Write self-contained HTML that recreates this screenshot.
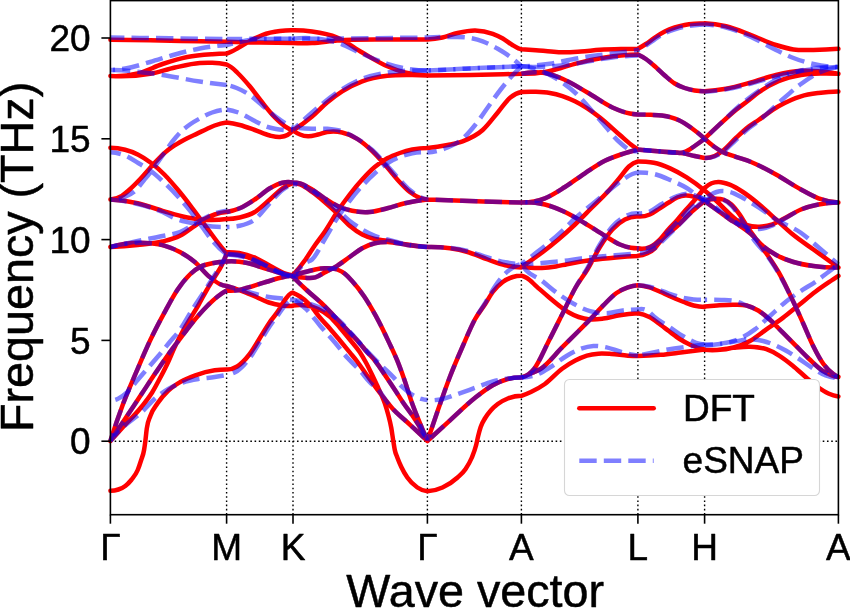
<!DOCTYPE html>
<html><head><meta charset="utf-8"><title>Phonon dispersion</title>
<style>html,body{margin:0;padding:0;background:#fff;overflow:hidden}body{width:850px;height:608px;position:relative}</style></head>
<body>
<svg width="850" height="608" viewBox="0 0 850 608" style="display:block;position:absolute;left:0;top:0">
<rect width="850" height="608" fill="#fff"/>
<g stroke="#000" stroke-width="1.4" stroke-dasharray="1.6 2.64" fill="none">
<line x1="226.6" y1="514.7" x2="226.6" y2="0.6"/>
<line x1="293.0" y1="514.7" x2="293.0" y2="0.6"/>
<line x1="427.4" y1="514.7" x2="427.4" y2="0.6"/>
<line x1="521.4" y1="514.7" x2="521.4" y2="0.6"/>
<line x1="637.9" y1="514.7" x2="637.9" y2="0.6"/>
<line x1="704.6" y1="514.7" x2="704.6" y2="0.6"/>
<line x1="110.4" y1="441.2" x2="838.4" y2="441.2"/>
</g>
<g fill="none" stroke-linecap="butt" stroke-linejoin="round">
<path d="M110.40,39.80 C123.64,39.92 136.88,40.09 150.13,40.30 C166.68,40.56 183.23,40.98 199.78,41.30 C208.72,41.47 217.66,41.64 226.60,41.80 M110.40,76.00 C119.50,76.55 128.61,75.72 137.71,73.50 C145.99,71.48 154.26,66.75 162.54,64.00 C170.82,61.25 179.09,58.63 187.37,57.00 C195.65,55.37 203.92,54.80 212.20,54.20 C217.00,53.85 221.80,53.62 226.60,53.50 M110.40,76.00 C123.64,76.88 136.88,76.15 150.13,73.80 C158.40,72.33 166.68,69.30 174.96,67.50 C183.23,65.70 191.51,63.59 199.78,63.00 C203.92,62.71 208.06,62.61 212.20,62.80 C217.00,63.02 221.80,63.59 226.60,64.50 M110.40,147.80 C115.30,147.85 120.20,148.52 125.10,149.80 C129.47,150.94 133.84,152.49 138.21,154.70 C142.55,156.90 146.88,159.72 151.22,163.00 C155.59,166.31 159.96,170.12 164.33,174.50 C168.70,178.88 173.07,184.08 177.44,189.30 C181.81,194.52 186.18,200.09 190.55,205.80 C193.83,210.08 197.10,214.59 200.38,219.00 C203.10,222.66 205.81,226.33 208.52,230.00 C211.24,233.67 213.95,237.47 216.67,241.00 C219.98,245.30 223.29,249.40 226.60,253.30 M110.40,199.50 C114.21,199.36 118.01,198.16 121.82,195.90 C125.10,193.95 128.38,190.74 131.65,187.70 C134.90,184.70 138.14,181.25 141.39,177.80 C145.76,173.15 150.13,167.63 154.50,163.00 C157.77,159.53 161.05,155.98 164.33,153.10 C167.61,150.22 170.88,147.91 174.16,145.70 C178.53,142.75 182.90,140.44 187.27,138.20 C190.55,136.52 193.83,135.14 197.10,133.60 C200.35,132.07 203.59,130.49 206.84,129.00 C209.45,127.80 212.07,126.46 214.68,125.50 C218.65,124.03 222.63,123.03 226.60,122.50 M110.40,199.50 C119.50,199.99 128.61,201.26 137.71,203.30 C145.99,205.16 154.26,208.43 162.54,210.80 C170.82,213.17 179.09,215.96 187.37,217.50 C193.16,218.58 198.96,219.37 204.75,219.70 C212.03,220.11 219.32,219.88 226.60,219.00 M110.40,247.00 C119.50,246.66 128.61,245.99 137.71,245.00 C145.99,244.10 154.26,243.58 162.54,241.50 C168.33,240.05 174.13,238.77 179.92,235.80 C184.89,233.25 189.85,229.17 194.82,225.80 C198.13,223.55 201.44,220.88 204.75,219.00 C208.06,217.12 211.37,215.63 214.68,214.50 C218.65,213.14 222.63,212.31 226.60,212.00 M110.40,247.00 C123.64,243.25 136.88,242.02 150.13,243.30 C155.09,243.78 160.06,244.35 165.02,245.80 C169.99,247.25 174.96,249.30 179.92,252.00 C184.89,254.70 189.85,257.83 194.82,262.00 C199.78,266.17 204.75,272.90 209.72,277.00 C213.03,279.73 216.34,282.48 219.65,284.00 C221.97,285.06 224.28,285.73 226.60,286.00 M110.40,441.00 C114.70,427.34 119.01,414.77 123.31,403.30 C127.55,392.00 131.79,382.56 136.02,372.60 C140.79,361.39 145.56,350.09 150.33,340.00 C155.52,329.00 160.72,319.26 165.92,309.80 C169.72,302.87 173.53,295.70 177.34,290.00 C181.51,283.75 185.68,278.54 189.85,274.50 C193.16,271.29 196.47,268.83 199.78,267.00 C203.92,264.72 208.06,264.20 212.20,263.30 C217.00,262.25 221.80,261.65 226.60,261.50 M110.40,441.00 C114.70,436.26 119.01,431.53 123.31,426.80 C129.34,420.18 135.36,414.57 141.39,407.00 C144.96,402.51 148.54,398.25 152.11,392.50 C155.09,387.71 158.07,381.92 161.05,376.20 C163.47,371.56 165.88,366.93 168.30,361.70 C170.22,357.55 172.14,352.67 174.06,348.50 C177.90,340.16 181.74,333.11 185.58,326.20 C189.92,318.40 194.26,312.39 198.59,304.80 C201.31,300.05 204.02,294.68 206.74,290.00 C209.39,285.43 212.03,281.39 214.68,277.00 C217.16,272.88 219.65,269.71 222.13,264.50 C223.62,261.38 225.11,257.88 226.60,254.00 M110.40,441.00 C115.93,432.67 121.46,424.33 126.99,416.00 C131.79,408.77 136.59,401.53 141.39,394.30 C146.19,387.07 150.99,379.68 155.79,372.60 C159.96,366.45 164.13,360.29 168.30,354.50 C171.91,349.49 175.52,344.78 179.13,340.00 C183.46,334.26 187.80,328.31 192.14,323.00 C197.00,317.05 201.87,311.40 206.74,306.50 C210.38,302.83 214.02,299.32 217.66,296.50 C220.64,294.19 223.62,292.22 226.60,290.60 M110.40,490.80 C113.05,490.85 115.70,490.41 118.35,489.50 C120.66,488.70 122.98,487.79 125.30,486.00 C127.28,484.46 129.27,482.52 131.26,480.00 C133.41,477.27 135.56,475.19 137.71,470.00 C138.87,467.21 140.03,463.71 141.19,460.00 C142.15,456.93 143.11,455.65 144.07,450.00 C144.50,447.47 144.93,444.39 145.36,441.00 C145.82,437.35 146.29,432.11 146.75,428.70 C147.94,419.92 149.13,419.52 150.33,416.00 C152.74,408.85 155.16,406.97 157.58,403.30 C161.15,397.87 164.73,394.16 168.30,390.70 C172.51,386.64 176.71,384.08 180.91,381.60 C185.71,378.77 190.52,377.03 195.32,375.30 C201.77,372.97 208.23,371.20 214.68,370.30 C218.65,369.74 222.63,369.48 226.60,369.50 M226.60,41.80 C237.67,42.07 248.73,42.30 259.80,42.50 C270.87,42.70 281.93,42.87 293.00,43.00 M226.60,53.50 C228.28,52.95 229.95,52.28 231.63,51.50 C233.47,50.64 235.32,49.54 237.16,48.50 C240.52,46.62 243.87,44.37 247.22,42.50 C252.25,39.70 257.28,36.87 262.32,35.00 C268.18,32.81 274.05,31.75 279.92,31.00 C284.28,30.44 288.64,30.21 293.00,30.30 M226.60,64.50 C228.28,65.25 229.95,66.25 231.63,67.50 C233.47,68.87 235.32,70.72 237.16,72.50 C241.36,76.54 245.55,81.30 249.74,86.30 C253.93,91.30 258.12,97.30 262.32,102.50 C266.51,107.70 270.70,113.24 274.89,117.50 C278.24,120.91 281.60,124.02 284.95,126.30 C287.63,128.12 290.32,129.52 293.00,130.50 M226.60,122.50 C230.96,123.05 235.32,123.88 239.68,125.00 C244.71,126.29 249.74,128.25 254.77,130.00 C259.80,131.75 264.83,134.32 269.86,135.50 C273.21,136.29 276.57,137.29 279.92,137.00 C282.44,136.78 284.95,136.46 287.47,135.00 C289.31,133.93 291.16,132.43 293.00,130.50 M226.60,212.00 C230.96,211.37 235.32,210.14 239.68,208.30 C244.71,206.18 249.74,202.83 254.77,199.50 C259.80,196.17 264.83,191.22 269.86,188.30 C274.05,185.87 278.24,183.60 282.44,182.70 C285.96,181.95 289.48,181.88 293.00,182.50 M226.60,219.00 C230.96,219.01 235.32,218.51 239.68,217.50 C244.71,216.34 249.74,215.00 254.77,212.00 C259.80,209.00 264.83,203.84 269.86,199.50 C274.05,195.89 278.24,191.15 282.44,188.30 C285.96,185.91 289.48,184.14 293.00,183.00 M226.60,252.20 C230.76,252.05 234.92,252.32 239.08,253.00 C244.64,253.92 250.21,255.64 255.78,258.00 C261.28,260.33 266.78,264.12 272.28,267.00 C276.70,269.31 281.13,272.29 285.56,273.70 C288.04,274.49 290.52,275.02 293.00,275.30 M226.60,254.00 C233.54,253.78 240.48,254.78 247.43,257.00 C252.89,258.75 258.36,261.94 263.82,264.50 C269.39,267.11 274.96,270.47 280.52,272.50 C284.68,274.02 288.84,275.19 293.00,276.00 M226.60,261.50 C233.54,261.10 240.48,261.60 247.43,263.00 C252.89,264.11 258.36,266.32 263.82,268.00 C269.39,269.72 274.96,271.62 280.52,273.20 C284.68,274.38 288.84,275.48 293.00,276.50 M226.60,286.00 C232.44,287.62 238.27,289.56 244.11,291.80 C248.00,293.30 251.89,295.02 255.78,296.70 C260.14,298.58 264.49,301.04 268.85,302.50 C273.31,303.99 277.77,304.94 282.24,305.50 C285.82,305.95 289.41,306.12 293.00,306.00 M226.60,290.60 C230.76,290.97 234.92,290.77 239.08,290.00 C241.86,289.49 244.64,288.49 247.43,287.70 C252.89,286.14 258.36,284.34 263.82,282.70 C269.39,281.03 274.96,279.14 280.52,277.80 C284.68,276.80 288.84,275.97 293.00,275.30 M226.60,369.50 C230.12,369.64 233.64,368.64 237.16,366.50 C241.36,363.95 245.55,359.42 249.74,354.00 C253.93,348.58 258.12,340.67 262.32,334.00 C264.83,330.00 267.35,325.64 269.86,322.00 C272.31,318.46 274.76,315.94 277.20,312.40 C279.99,308.37 282.77,302.58 285.56,299.00 C287.20,296.89 288.84,294.55 290.48,293.60 C291.32,293.11 292.16,292.85 293.00,292.80 M293.00,43.00 C299.35,43.27 305.70,43.27 312.06,43.00 C320.41,42.64 328.77,41.11 337.13,40.50 C353.85,39.28 370.56,39.65 387.28,39.50 C400.65,39.38 414.03,39.38 427.40,39.50 M293.00,30.30 C299.35,30.22 305.70,30.62 312.06,31.50 C320.41,32.66 328.77,34.00 337.13,37.50 C345.49,41.00 353.85,47.70 362.21,52.50 C370.56,57.30 378.92,62.67 387.28,66.30 C393.13,68.84 398.98,71.00 404.83,72.50 C412.36,74.43 419.88,75.43 427.40,75.50 M293.00,130.50 C299.35,126.53 305.70,121.86 312.06,116.50 C317.07,112.27 322.09,106.70 327.10,102.50 C332.12,98.30 337.13,94.50 342.15,91.30 C348.83,87.03 355.52,83.80 362.21,81.30 C370.56,78.17 378.92,76.85 387.28,75.80 C395.64,74.75 404.00,74.93 412.36,75.00 C417.37,75.04 422.39,75.21 427.40,75.50 M293.00,130.50 C295.34,132.21 297.68,133.54 300.02,134.50 C302.70,135.59 305.37,136.18 308.04,136.30 C311.39,136.45 314.73,135.27 318.07,134.50 C321.08,133.81 324.09,132.48 327.10,132.00 C332.12,131.19 337.13,131.37 342.15,132.50 C347.16,133.63 352.18,135.72 357.19,138.80 C362.21,141.88 367.22,146.21 372.24,151.00 C376.41,154.99 380.59,159.75 384.77,164.50 C388.95,169.25 393.13,174.92 397.31,179.50 C401.49,184.08 405.67,188.81 409.85,192.00 C413.19,194.56 416.53,196.54 419.88,197.80 C422.39,198.75 424.89,199.31 427.40,199.50 M293.00,275.00 C297.11,270.49 301.22,265.39 305.34,259.70 C308.65,255.12 311.96,249.55 315.27,244.80 C318.38,240.34 321.48,236.56 324.59,232.00 C328.77,225.87 332.95,218.25 337.13,212.00 C341.31,205.75 345.49,199.92 349.67,194.50 C353.85,189.08 358.03,184.08 362.21,179.50 C366.39,174.92 370.56,170.53 374.74,167.00 C378.92,163.47 383.10,160.63 387.28,158.30 C391.46,155.97 395.64,154.47 399.82,153.00 C404.00,151.53 408.18,150.33 412.36,149.50 C417.37,148.51 422.39,148.01 427.40,148.00 M293.00,182.50 C295.34,182.53 297.68,182.86 300.02,183.50 C304.03,184.60 308.04,187.10 312.06,189.50 C316.24,192.00 320.41,195.58 324.59,198.30 C328.77,201.02 332.95,203.81 337.13,205.80 C342.15,208.19 347.16,209.74 352.18,210.80 C358.03,212.03 363.88,212.42 369.73,212.00 C375.58,211.58 381.43,209.75 387.28,208.30 C393.13,206.85 398.98,204.67 404.83,203.30 C412.36,201.54 419.88,200.27 427.40,199.50 M293.00,183.00 C295.34,183.15 297.68,183.65 300.02,184.50 C304.03,185.96 308.04,189.16 312.06,192.00 C316.24,194.96 320.41,198.45 324.59,202.00 C328.77,205.55 332.95,209.33 337.13,213.30 C341.31,217.27 345.49,222.27 349.67,225.80 C353.85,229.33 358.03,232.30 362.21,234.50 C366.39,236.70 370.56,237.95 374.74,239.00 C378.92,240.05 383.10,240.13 387.28,240.80 C393.97,241.87 400.65,243.47 407.34,244.50 C414.03,245.53 420.71,246.37 427.40,247.00 M293.00,276.00 C297.11,277.02 301.22,277.62 305.34,277.80 C308.65,277.94 311.96,278.36 315.27,277.40 C318.38,276.50 321.48,274.15 324.59,272.50 C328.77,270.29 332.95,268.38 337.13,265.80 C341.31,263.22 345.49,259.92 349.67,257.00 C353.85,254.08 358.03,250.58 362.21,248.30 C366.39,246.02 370.56,244.35 374.74,243.30 C378.92,242.25 383.10,242.03 387.28,242.00 C393.97,241.96 400.65,244.17 407.34,245.00 C414.03,245.83 420.71,246.50 427.40,247.00 M293.00,275.30 C297.11,274.16 301.22,273.06 305.34,272.00 C308.65,271.14 311.96,270.12 315.27,269.50 C318.38,268.91 321.48,268.40 324.59,268.30 C328.77,268.16 332.95,267.91 337.13,269.50 C339.81,270.51 342.48,271.83 345.16,274.00 C347.16,275.62 349.17,277.83 351.17,280.00 C355.52,284.70 359.87,290.05 364.21,296.50 C368.12,302.30 372.04,309.02 375.95,316.20 C380.33,324.24 384.71,333.28 389.09,342.60 C391.83,348.43 394.57,353.92 397.31,360.70 C399.55,366.24 401.79,372.43 404.03,378.80 C406.81,386.69 409.58,396.27 412.36,404.00 C415.70,413.31 419.04,420.89 422.39,429.00 C424.06,433.06 425.73,437.06 427.40,441.00 M293.00,277.00 C297.51,281.48 302.03,285.81 306.54,290.00 C312.06,295.12 317.57,299.39 323.09,304.70 C328.71,310.11 334.32,316.28 339.94,322.20 C343.02,325.44 346.09,328.72 349.17,332.00 C352.74,335.82 356.32,339.36 359.90,343.50 C362.11,346.05 364.31,348.95 366.52,351.50 C369.43,354.86 372.34,357.37 375.24,361.00 C378.92,365.59 382.60,371.58 386.28,377.00 C389.29,381.44 392.30,385.93 395.30,390.50 C398.11,394.77 400.92,399.38 403.73,403.50 C406.60,407.72 409.48,411.25 412.36,415.50 C415.03,419.45 417.70,423.41 420.38,428.00 C422.72,432.01 425.06,436.35 427.40,441.00 M293.00,305.50 C297.51,304.76 302.03,304.76 306.54,305.50 C310.39,306.13 314.23,307.17 318.07,309.00 C322.05,310.89 326.03,313.24 330.01,316.80 C333.32,319.77 336.63,323.90 339.94,327.70 C343.22,331.47 346.49,335.47 349.77,339.50 C353.08,343.57 356.39,346.98 359.70,352.00 C361.87,355.30 364.04,358.97 366.22,363.00 C368.06,366.41 369.90,370.21 371.73,374.00 C373.51,377.65 375.28,381.48 377.05,385.30 C378.45,388.33 379.86,391.21 381.26,394.50 C382.50,397.40 383.74,400.02 384.97,403.70 C386.08,406.98 387.18,410.71 388.28,415.00 C389.29,418.90 390.29,422.37 391.29,428.00 C391.96,431.76 392.63,436.86 393.30,441.00 C393.80,444.11 394.30,447.56 394.80,450.00 C395.64,454.06 396.47,455.20 397.31,457.50 C398.65,461.18 399.99,464.17 401.32,467.00 C403.33,471.25 405.33,474.56 407.34,477.50 C410.68,482.40 414.03,485.20 417.37,487.50 C420.71,489.80 424.06,491.07 427.40,491.30 M293.00,292.80 C295.34,293.73 297.68,294.97 300.02,296.50 C303.30,298.65 306.57,301.25 309.85,304.70 C313.26,308.29 316.67,313.75 320.08,317.80 C323.39,321.73 326.70,324.92 330.01,328.70 C333.32,332.48 336.63,336.53 339.94,340.50 C343.22,344.43 346.49,348.40 349.77,352.40 C352.24,355.42 354.72,358.26 357.19,361.50 C360.30,365.57 363.41,370.36 366.52,374.70 C370.03,379.60 373.54,384.55 377.05,389.20 C380.13,393.27 383.20,397.19 386.28,401.00 C388.48,403.73 390.69,406.55 392.90,409.00 C397.04,413.60 401.19,416.69 405.33,420.50 C409.35,424.19 413.36,427.76 417.37,431.50 C420.71,434.62 424.06,437.78 427.40,441.00 M427.40,39.50 C432.43,39.25 437.45,38.58 442.48,37.50 C447.51,36.42 452.53,34.14 457.56,33.00 C463.42,31.67 469.29,30.37 475.15,30.50 C481.02,30.63 486.88,31.66 492.75,33.80 C496.10,35.03 499.45,36.57 502.80,38.50 C505.98,40.34 509.17,43.09 512.35,45.00 C514.36,46.20 516.37,47.53 518.38,48.30 C519.39,48.68 520.39,48.98 521.40,49.20 M427.40,75.50 C441.81,75.41 456.22,75.25 470.63,75.00 C487.55,74.71 504.48,74.31 521.40,73.80 M427.40,148.00 C434.10,147.37 440.80,146.37 447.51,145.00 C452.53,143.97 457.56,143.22 462.59,141.30 C469.29,138.75 475.99,136.06 482.69,130.00 C487.72,125.46 492.75,118.42 497.77,112.50 C501.96,107.56 506.15,100.95 510.34,97.50 C514.03,94.47 517.71,92.63 521.40,92.00 M427.40,199.50 C439.13,199.97 450.86,200.40 462.59,200.80 C482.19,201.47 501.80,202.03 521.40,202.50 M427.40,247.00 C434.94,246.79 442.48,247.22 450.02,248.30 C455.88,249.14 461.75,250.32 467.61,252.00 C474.32,253.92 481.02,257.15 487.72,259.50 C493.59,261.55 499.45,263.96 505.31,265.30 C510.68,266.53 516.04,267.26 521.40,267.50 M427.40,441.00 C430.75,430.94 434.10,421.11 437.45,411.50 C441.64,399.49 445.83,387.33 450.02,376.50 C454.21,365.67 458.40,356.08 462.59,346.50 C466.78,336.92 470.97,326.55 475.15,319.00 C478.51,312.96 481.86,309.19 485.21,304.00 C487.72,300.11 490.23,295.36 492.75,292.00 C496.10,287.52 499.45,284.50 502.80,282.00 C506.15,279.50 509.50,278.02 512.85,277.00 C515.70,276.13 518.55,275.73 521.40,275.80 M427.40,441.00 C434.94,434.03 442.48,427.13 450.02,420.30 C458.40,412.71 466.78,404.39 475.15,397.80 C481.02,393.19 486.88,388.54 492.75,385.30 C497.77,382.52 502.80,380.29 507.83,379.00 C512.35,377.84 516.88,377.34 521.40,377.50 M427.40,491.30 C432.43,491.07 437.45,489.80 442.48,487.50 C447.51,485.20 452.53,482.12 457.56,477.50 C460.24,475.03 462.92,473.01 465.60,469.00 C467.61,465.99 469.62,462.87 471.64,458.00 C473.14,454.35 474.65,451.01 476.16,445.00 C476.83,442.33 477.50,438.73 478.17,436.00 C479.01,432.58 479.85,429.52 480.68,427.00 C482.19,422.46 483.70,420.57 485.21,418.00 C487.05,414.86 488.89,412.65 490.74,410.50 C493.08,407.76 495.43,405.80 497.77,404.00 C501.13,401.42 504.48,399.84 507.83,398.50 C512.35,396.70 516.88,395.80 521.40,395.80 M521.40,49.20 C526.23,49.49 531.07,49.82 535.90,50.20 C540.90,50.59 545.90,51.12 550.90,51.50 C554.73,51.80 558.57,52.20 562.40,52.30 C568.57,52.46 574.73,51.91 580.90,51.50 C587.23,51.08 593.57,50.21 599.90,49.80 C606.90,49.34 613.90,49.16 620.90,49.00 C626.57,48.87 632.23,48.80 637.90,48.80 M521.40,73.80 C529.23,74.01 537.07,73.41 544.90,72.00 C550.23,71.04 555.57,69.48 560.90,68.00 C565.57,66.71 570.23,65.07 574.90,63.80 C584.90,61.09 594.90,59.05 604.90,57.50 C610.23,56.68 615.57,56.00 620.90,55.50 C626.57,54.97 632.23,54.64 637.90,54.50 M521.40,73.80 C529.23,71.89 537.07,71.63 544.90,73.00 C550.73,74.02 556.57,76.35 562.40,78.80 C570.73,82.31 579.07,87.72 587.40,92.50 C595.73,97.28 604.07,103.76 612.40,107.50 C618.23,110.12 624.07,112.37 629.90,113.50 C632.57,114.02 635.23,114.35 637.90,114.50 M521.40,92.00 C526.23,91.69 531.07,91.62 535.90,91.80 C540.57,91.97 545.23,92.19 549.90,93.00 C558.23,94.45 566.57,97.22 574.90,101.30 C583.23,105.38 591.57,111.05 599.90,117.50 C606.57,122.66 613.23,129.22 619.90,135.00 C623.57,138.18 627.23,141.67 630.90,144.50 C633.23,146.30 635.57,147.97 637.90,149.50 M521.40,202.50 C529.23,202.73 537.07,201.33 544.90,198.30 C551.57,195.72 558.23,191.17 564.90,187.00 C571.57,182.83 578.23,177.67 584.90,173.30 C591.57,168.93 598.23,164.11 604.90,160.80 C610.23,158.15 615.57,156.31 620.90,154.50 C623.57,153.59 626.23,152.79 628.90,152.00 C631.90,151.11 634.90,150.28 637.90,149.50 M521.40,202.50 C529.23,201.94 537.07,202.61 544.90,204.50 C551.57,206.11 558.23,208.87 564.90,212.00 C571.57,215.13 578.23,219.33 584.90,223.30 C591.57,227.27 598.23,231.80 604.90,235.80 C609.90,238.80 614.90,242.41 619.90,244.50 C623.57,246.03 627.23,247.21 630.90,247.80 C633.23,248.17 635.57,248.34 637.90,248.30 M521.40,266.80 C524.57,267.26 527.73,267.59 530.90,267.80 C534.57,268.04 538.23,268.14 541.90,268.00 C546.57,267.83 551.23,267.27 555.90,266.50 C559.57,265.90 563.23,264.92 566.90,264.20 C575.10,262.58 583.30,261.13 591.50,260.00 C599.73,258.86 607.97,258.09 616.20,257.40 C623.43,256.80 630.67,256.33 637.90,256.00 M521.40,266.80 C528.30,262.45 535.20,257.69 542.10,252.50 C547.60,248.37 553.10,243.98 558.60,239.30 C564.07,234.65 569.53,229.70 575.00,224.50 C580.50,219.27 586.00,213.52 591.50,208.00 C596.97,202.52 602.43,197.51 607.90,191.50 C611.90,187.10 615.90,182.29 619.90,177.50 C622.90,173.90 625.90,169.17 628.90,166.50 C631.90,163.83 634.90,162.17 637.90,161.50 M521.40,275.60 C523.23,276.11 525.07,276.91 526.90,278.00 C530.17,279.94 533.43,283.74 536.70,286.60 C541.07,290.42 545.43,294.34 549.80,298.00 C553.50,301.10 557.20,304.27 560.90,307.00 C563.57,308.97 566.23,310.94 568.90,312.50 C572.13,314.40 575.37,315.88 578.60,317.00 C582.43,318.33 586.27,319.08 590.10,319.40 C594.50,319.77 598.90,319.14 603.30,318.60 C608.77,317.93 614.23,316.18 619.70,315.30 C625.77,314.33 631.83,313.63 637.90,313.20 M521.40,377.50 C524.57,376.26 527.73,374.92 530.90,373.50 C534.17,372.03 537.43,370.90 540.70,368.80 C547.83,364.21 554.97,354.51 562.10,347.40 C567.60,341.92 573.10,336.51 578.60,331.00 C582.43,327.16 586.27,323.36 590.10,319.40 C594.50,314.86 598.90,309.80 603.30,305.40 C607.70,301.00 612.10,296.10 616.50,293.00 C620.30,290.33 624.10,288.61 627.90,287.30 C631.23,286.15 634.57,285.45 637.90,285.20 M521.40,377.50 C523.90,377.12 526.40,375.95 528.90,374.00 C530.63,372.65 532.37,370.94 534.10,368.80 C539.03,362.72 543.97,350.40 548.90,340.80 C553.30,332.24 557.70,323.30 562.10,314.50 C566.50,305.70 570.90,295.73 575.30,288.00 C579.33,280.91 583.37,276.20 587.40,269.50 C591.57,262.57 595.73,253.67 599.90,247.00 C604.07,240.33 608.23,234.08 612.40,229.50 C616.57,224.92 620.73,221.67 624.90,219.50 C629.23,217.24 633.57,216.24 637.90,216.50 M521.40,395.80 C524.57,394.75 527.73,393.49 530.90,392.00 C535.57,389.81 540.23,387.32 544.90,384.00 C550.63,379.92 556.37,373.02 562.10,368.80 C566.50,365.57 570.90,362.87 575.30,360.60 C579.17,358.61 583.03,356.85 586.90,355.70 C590.70,354.57 594.50,354.02 598.30,353.70 C602.70,353.33 607.10,353.74 611.50,354.00 C616.97,354.32 622.43,355.38 627.90,355.70 C631.23,355.89 634.57,355.99 637.90,356.00 M637.90,48.80 C640.55,47.35 643.21,45.75 645.86,44.00 C648.85,42.03 651.84,39.49 654.82,37.50 C658.14,35.29 661.46,33.17 664.78,31.50 C668.10,29.83 671.42,28.58 674.73,27.50 C678.05,26.42 681.37,25.62 684.69,25.00 C688.01,24.38 691.33,24.08 694.64,23.80 C697.96,23.52 701.28,23.35 704.60,23.30 M637.90,54.50 C640.55,55.69 643.21,57.19 645.86,59.00 C648.85,61.04 651.84,63.71 654.82,66.30 C658.14,69.18 661.46,72.63 664.78,75.50 C668.10,78.37 671.42,81.42 674.73,83.50 C678.05,85.58 681.37,86.83 684.69,88.00 C688.01,89.17 691.33,89.95 694.64,90.50 C697.96,91.05 701.28,91.32 704.60,91.30 M637.90,114.50 C642.21,114.50 646.53,114.60 650.84,114.80 C654.49,114.97 658.14,114.97 661.79,115.50 C667.33,116.31 672.88,117.44 678.42,120.00 C682.76,122.01 687.11,124.90 691.46,128.00 C695.84,131.13 700.22,134.69 704.60,138.70 M637.90,149.50 C645.53,150.17 653.16,150.83 660.80,151.50 C665.77,151.93 670.75,152.79 675.73,152.80 C678.25,152.81 680.77,153.23 683.30,152.50 C685.09,151.98 686.88,151.01 688.67,150.00 C690.66,148.88 692.65,147.38 694.64,146.00 C697.96,143.70 701.28,141.27 704.60,138.70 M637.90,149.50 C645.53,150.19 653.16,150.86 660.80,151.50 C668.30,152.13 675.80,151.91 683.30,153.30 C687.08,154.00 690.86,155.17 694.64,156.00 C697.96,156.72 701.28,157.39 704.60,158.00 M637.90,161.50 C640.55,161.48 643.21,161.58 645.86,161.80 C648.52,162.02 651.17,162.28 653.83,162.80 C659.27,163.87 664.71,165.99 670.15,168.40 C675.66,170.84 681.17,173.91 686.68,177.40 C692.65,181.19 698.63,185.55 704.60,190.50 M637.90,216.50 C641.88,216.82 645.86,216.16 649.85,214.50 C653.16,213.12 656.48,210.41 659.80,208.30 C662.79,206.40 665.77,204.35 668.76,202.50 C671.58,200.76 674.40,198.69 677.22,197.50 C679.94,196.35 682.67,195.56 685.39,195.40 C688.14,195.24 690.89,195.87 693.65,196.60 C697.30,197.56 700.95,199.09 704.60,201.20 M637.90,248.30 C641.88,249.27 645.86,248.83 649.85,247.00 C653.16,245.47 656.48,242.73 659.80,239.50 C662.79,236.59 665.77,232.33 668.76,229.00 C671.58,225.85 674.40,223.17 677.22,220.00 C680.04,216.83 682.86,213.22 685.69,210.00 C688.34,206.97 690.99,204.25 693.65,201.20 C697.30,197.01 700.95,192.61 704.60,188.00 M637.90,255.80 C641.05,255.68 644.20,254.85 647.36,253.30 C649.85,252.08 652.34,250.80 654.82,248.30 C656.81,246.30 658.81,243.03 660.80,240.70 C666.27,234.28 671.75,231.12 677.22,226.00 C682.70,220.88 688.17,214.77 693.65,210.00 C697.30,206.82 700.95,203.88 704.60,201.20 M637.90,285.20 C641.72,285.47 645.53,286.17 649.35,287.30 C653.16,288.43 656.98,290.28 660.80,292.00 C663.45,293.19 666.11,294.59 668.76,295.80 C673.74,298.07 678.72,300.12 683.69,302.00 C687.01,303.25 690.33,304.67 693.65,305.50 C697.30,306.41 700.95,306.91 704.60,307.00 M637.90,313.20 C641.72,313.77 645.53,315.03 649.35,317.00 C653.16,318.97 656.98,322.21 660.80,325.00 C663.45,326.94 666.11,329.03 668.76,331.00 C672.41,333.71 676.06,336.67 679.71,339.00 C683.36,341.33 687.01,343.36 690.66,345.00 C695.31,347.09 699.95,348.59 704.60,349.50 M637.90,356.00 C645.53,355.86 653.16,355.46 660.80,354.80 C667.43,354.23 674.07,353.30 680.71,352.50 C688.67,351.54 696.64,350.54 704.60,349.50 M704.60,23.30 C711.76,23.61 718.91,24.61 726.07,26.30 C734.39,28.27 742.71,31.88 751.03,35.00 C759.35,38.12 767.67,42.37 775.99,45.00 C781.82,46.84 787.64,48.63 793.47,49.50 C800.12,50.49 806.78,50.05 813.44,50.00 C821.76,49.94 830.08,49.54 838.40,48.80 M704.60,91.30 C711.76,90.92 718.91,90.08 726.07,88.80 C734.39,87.31 742.71,84.80 751.03,82.50 C759.35,80.20 767.67,76.95 775.99,75.00 C784.31,73.05 792.64,71.24 800.96,70.80 C806.78,70.49 812.61,70.87 818.43,71.30 C825.09,71.79 831.74,72.62 838.40,73.80 M704.60,138.70 C709.53,133.90 714.45,129.24 719.38,124.70 C724.87,119.64 730.36,114.49 735.85,110.00 C740.25,106.41 744.64,103.41 749.03,100.00 C752.20,97.54 755.36,94.77 758.52,92.50 C765.18,87.73 771.83,84.15 778.49,81.30 C785.98,78.09 793.47,76.28 800.96,75.00 C807.45,73.89 813.94,73.68 820.43,73.50 C826.42,73.33 832.41,73.43 838.40,73.80 M704.60,158.00 C707.93,158.12 711.26,157.45 714.59,156.00 C717.25,154.84 719.91,153.02 722.57,151.00 C727.00,147.64 731.43,142.11 735.85,138.00 C740.25,133.92 744.64,129.74 749.03,126.40 C752.20,123.99 755.36,122.14 758.52,120.00 C765.18,115.48 771.83,110.11 778.49,106.30 C785.98,102.01 793.47,98.55 800.96,96.30 C806.78,94.55 812.61,93.79 818.43,93.00 C825.09,92.10 831.74,91.60 838.40,91.50 M704.60,138.70 C707.93,141.85 711.26,144.61 714.59,147.00 C717.25,148.91 719.91,150.60 722.57,152.00 C727.00,154.33 731.43,155.24 735.85,156.80 C740.91,158.58 745.97,159.96 751.03,162.00 C759.35,165.35 767.67,169.92 775.99,174.50 C784.31,179.08 792.64,184.98 800.96,189.50 C806.78,192.67 812.61,196.16 818.43,198.30 C825.09,200.74 831.74,202.14 838.40,202.50 M704.60,190.50 C708.06,193.29 711.52,196.29 714.98,199.50 C718.85,203.08 722.71,207.39 726.57,211.00 C730.36,214.55 734.16,218.54 737.95,221.00 C740.71,222.79 743.48,224.04 746.24,225.00 C750.60,226.51 754.96,226.81 759.32,226.70 C763.71,226.59 768.11,225.85 772.50,224.30 C776.36,222.94 780.22,220.48 784.08,218.50 C789.71,215.61 795.33,211.82 800.96,209.50 C806.78,207.10 812.61,205.66 818.43,204.50 C825.09,203.17 831.74,202.51 838.40,202.50 M704.60,188.00 C706.93,185.86 709.26,184.30 711.59,183.30 C713.82,182.35 716.05,182.08 718.28,182.00 C722.11,181.86 725.93,183.23 729.76,184.70 C734.16,186.39 738.55,189.16 742.94,192.00 C748.40,195.53 753.86,199.97 759.32,204.50 C764.81,209.06 770.30,214.38 775.79,219.30 C781.29,224.22 786.78,229.48 792.27,234.00 C799.33,239.80 806.38,244.37 813.44,249.50 C821.76,255.55 830.08,261.55 838.40,267.50 M704.60,201.20 C709.16,204.45 713.72,207.72 718.28,211.00 C722.11,213.76 725.93,216.73 729.76,219.30 C732.49,221.13 735.22,222.68 737.95,224.50 C742.34,227.43 746.74,230.11 751.13,234.00 C754.92,237.36 758.72,242.41 762.51,245.70 C766.94,249.53 771.37,252.20 775.79,254.70 C781.68,258.02 787.58,260.16 793.47,262.00 C800.12,264.08 806.78,265.08 813.44,266.00 C821.76,267.15 830.08,267.65 838.40,267.50 M704.60,201.20 C708.06,199.71 711.52,198.88 714.98,198.70 C717.71,198.56 720.44,198.53 723.17,199.50 C725.90,200.47 728.63,202.02 731.36,204.50 C734.09,206.98 736.82,210.60 739.55,214.40 C742.31,218.25 745.07,223.38 747.84,227.50 C750.56,231.57 753.29,235.17 756.02,239.00 C758.79,242.87 761.55,246.69 764.31,250.60 C766.51,253.71 768.70,256.71 770.90,260.00 C773.43,263.79 775.96,267.64 778.49,272.00 C783.48,280.60 788.47,291.40 793.47,302.00 C796.80,309.07 800.12,316.58 803.45,324.00 C806.78,331.42 810.11,339.83 813.44,346.50 C816.77,353.17 820.09,359.42 823.42,364.00 C826.75,368.58 830.08,371.64 833.41,374.00 C835.07,375.18 836.74,376.11 838.40,376.80 M704.60,306.60 C708.76,306.16 712.92,305.80 717.08,305.50 C722.57,305.11 728.06,304.63 733.56,304.70 C737.88,304.76 742.21,304.40 746.54,305.50 C750.43,306.49 754.33,308.13 758.22,310.50 C762.05,312.82 765.88,316.11 769.70,319.50 C774.10,323.39 778.49,328.30 782.88,332.70 C787.28,337.10 791.67,341.50 796.06,345.90 C800.42,350.27 804.78,354.90 809.14,359.00 C813.54,363.13 817.93,367.70 822.32,370.60 C825.62,372.78 828.91,374.38 832.21,375.50 C834.27,376.20 836.34,376.70 838.40,377.00 M704.60,349.80 C708.76,350.13 712.92,350.20 717.08,350.00 C722.57,349.73 728.06,348.35 733.56,347.80 C739.02,347.25 744.47,346.47 749.93,346.70 C755.42,346.93 760.92,347.29 766.41,349.20 C770.77,350.72 775.13,353.08 779.49,355.80 C783.91,358.56 788.34,362.10 792.77,365.70 C797.13,369.24 801.49,373.48 805.85,377.20 C809.38,380.21 812.90,383.41 816.43,386.00 C820.43,388.94 824.42,391.71 828.41,393.50 C831.74,394.99 835.07,395.99 838.40,396.50 M704.60,349.80 C708.76,350.17 712.92,350.23 717.08,350.00 C722.57,349.69 728.06,349.01 733.56,347.50 C739.02,346.00 744.47,344.00 749.93,341.00 C755.42,337.98 760.92,333.25 766.41,329.40 C771.90,325.55 777.39,322.03 782.88,317.90 C788.34,313.79 793.80,309.09 799.26,304.70 C804.75,300.29 810.24,295.62 815.73,291.50 C821.23,287.38 826.72,283.76 832.21,280.00 C834.27,278.59 836.34,277.19 838.40,275.80" stroke="#ff0000" stroke-width="4.5" stroke-linecap="round"/>
<g stroke="#0000ff" stroke-opacity="0.5" stroke-width="4.5" stroke-dasharray="17.4 7.1">
<path d="M110.40,247.00 C123.64,243.25 136.88,242.02 150.13,243.30 C155.09,243.78 160.06,244.35 165.02,245.80 C169.99,247.25 174.96,249.30 179.92,252.00 C184.89,254.70 189.85,257.83 194.82,262.00 C199.78,266.17 204.75,272.90 209.72,277.00 C213.03,279.73 216.34,282.48 219.65,284.00 C221.97,285.06 224.28,285.73 226.60,286.00" stroke-dashoffset="0.0"/>
<path d="M110.40,441.00 C114.70,427.34 119.01,414.77 123.31,403.30 C127.55,392.00 131.79,382.56 136.02,372.60 C140.79,361.39 145.56,350.09 150.33,340.00 C155.52,329.00 160.72,319.26 165.92,309.80 C169.72,302.87 173.53,295.70 177.34,290.00 C181.51,283.75 185.68,278.54 189.85,274.50 C193.16,271.29 196.47,268.83 199.78,267.00 C203.92,264.72 208.06,264.20 212.20,263.30 C217.00,262.25 221.80,261.65 226.60,261.50" stroke-dashoffset="9.3"/>
<path d="M110.40,441.00 C115.93,432.67 121.46,424.33 126.99,416.00 C131.79,408.77 136.59,401.53 141.39,394.30 C146.19,387.07 150.99,379.68 155.79,372.60 C159.96,366.45 164.13,360.29 168.30,354.50 C171.91,349.49 175.52,344.78 179.13,340.00 C183.46,334.26 187.80,328.31 192.14,323.00 C197.00,317.05 201.87,311.40 206.74,306.50 C210.38,302.83 214.02,299.32 217.66,296.50 C220.64,294.19 223.62,292.22 226.60,290.60" stroke-dashoffset="18.6"/>
<path d="M110.40,37.50 C130.26,37.78 150.13,38.04 169.99,38.30 C188.86,38.54 207.73,38.78 226.60,39.00" stroke-dashoffset="3.4"/>
<path d="M110.40,70.00 C115.37,69.80 120.33,69.30 125.30,68.50 C133.57,67.17 141.85,64.33 150.13,62.00 C158.40,59.67 166.68,56.75 174.96,54.50 C183.23,52.25 191.51,50.06 199.78,48.50 C208.72,46.82 217.66,45.65 226.60,45.00" stroke-dashoffset="12.7"/>
<path d="M110.40,70.00 C117.02,70.15 123.64,70.48 130.26,71.00 C141.02,71.84 151.78,73.41 162.54,75.00 C174.96,76.83 187.37,79.65 199.78,81.50 C208.72,82.83 217.66,84.00 226.60,85.00" stroke-dashoffset="22.0"/>
<path d="M110.40,152.20 C115.30,152.40 120.20,153.50 125.10,155.50 C129.47,157.28 133.84,160.37 138.21,163.00 C142.55,165.61 146.88,167.93 151.22,171.20 C155.59,174.49 159.96,178.58 164.33,182.70 C168.70,186.82 173.07,191.09 177.44,195.90 C180.72,199.50 183.99,203.42 187.27,207.40 C190.55,211.38 193.83,215.42 197.10,219.80 C199.29,222.72 201.47,225.90 203.66,228.90 C206.51,232.82 209.35,237.04 212.20,240.50 C217.00,246.33 221.80,251.00 226.60,254.50" stroke-dashoffset="6.8"/>
<path d="M110.40,199.50 C115.30,199.71 120.20,198.78 125.10,196.70 C128.38,195.31 131.65,193.91 134.93,191.00 C138.18,188.12 141.42,183.38 144.66,179.40 C147.94,175.38 151.22,171.40 154.50,167.00 C157.77,162.60 161.05,157.65 164.33,153.00 C167.04,149.15 169.76,144.98 172.47,141.50 C175.22,137.97 177.97,134.73 180.72,132.00 C183.76,128.97 186.81,126.68 189.85,124.50 C193.16,122.13 196.47,120.32 199.78,118.50 C203.92,116.22 208.06,113.97 212.20,112.50 C217.00,110.79 221.80,109.79 226.60,109.50" stroke-dashoffset="16.1"/>
<path d="M110.40,199.50 C119.50,200.25 128.61,201.75 137.71,204.00 C145.99,206.05 154.26,208.31 162.54,212.00 C166.68,213.84 170.82,216.56 174.96,218.30 C183.23,221.79 191.51,222.92 199.78,224.50 C203.92,225.29 208.06,226.08 212.20,226.50 C217.00,226.99 221.80,227.16 226.60,227.00" stroke-dashoffset="0.9"/>
<path d="M110.40,247.00 C119.50,244.91 128.61,242.91 137.71,241.00 C145.99,239.26 154.26,237.81 162.54,236.00 C168.33,234.74 174.13,234.24 179.92,232.00 C186.54,229.45 193.16,224.30 199.78,220.80 C203.92,218.61 208.06,216.12 212.20,214.50 C217.00,212.62 221.80,211.39 226.60,210.80" stroke-dashoffset="10.2"/>
<path d="M110.40,400.60 C112.95,400.55 115.50,399.95 118.05,398.80 C121.03,397.45 124.01,395.23 126.99,392.50 C130.59,389.19 134.20,384.01 137.81,379.80 C141.98,374.93 146.15,370.17 150.33,365.30 C153.90,361.13 157.48,356.99 161.05,352.70 C164.03,349.13 167.01,345.38 169.99,341.80 C172.97,338.22 175.95,335.26 178.93,331.20 C183.33,325.21 187.73,316.72 192.14,309.80 C196.47,302.99 200.81,296.73 205.15,290.00 C208.33,285.07 211.50,280.07 214.68,275.00 C217.16,271.04 219.65,267.62 222.13,263.00 C223.62,260.23 225.11,257.23 226.60,254.00" stroke-dashoffset="19.5"/>
<path d="M110.40,441.00 C114.70,435.84 119.01,431.17 123.31,427.00 C129.34,421.16 135.36,417.93 141.39,412.40 C146.19,407.99 150.99,401.99 155.79,397.90 C159.96,394.34 164.13,391.37 168.30,388.90 C173.10,386.06 177.90,384.13 182.70,382.50 C188.10,380.67 193.49,379.80 198.89,378.90 C204.15,378.02 209.42,377.89 214.68,377.10 C218.65,376.51 222.63,375.81 226.60,375.00" stroke-dashoffset="4.3"/>
<path d="M226.60,212.00 C230.96,211.37 235.32,210.14 239.68,208.30 C244.71,206.18 249.74,202.83 254.77,199.50 C259.80,196.17 264.83,191.22 269.86,188.30 C274.05,185.87 278.24,183.60 282.44,182.70 C285.96,181.95 289.48,181.88 293.00,182.50" stroke-dashoffset="13.6"/>
<path d="M226.60,254.00 C233.54,253.78 240.48,254.78 247.43,257.00 C252.89,258.75 258.36,261.94 263.82,264.50 C269.39,267.11 274.96,270.47 280.52,272.50 C284.68,274.02 288.84,275.19 293.00,276.00" stroke-dashoffset="22.9"/>
<path d="M226.60,261.50 C233.54,261.10 240.48,261.60 247.43,263.00 C252.89,264.11 258.36,266.32 263.82,268.00 C269.39,269.72 274.96,271.62 280.52,273.20 C284.68,274.38 288.84,275.48 293.00,276.50" stroke-dashoffset="7.7"/>
<path d="M226.60,290.60 C230.76,290.97 234.92,290.77 239.08,290.00 C241.86,289.49 244.64,288.49 247.43,287.70 C252.89,286.14 258.36,284.34 263.82,282.70 C269.39,281.03 274.96,279.14 280.52,277.80 C284.68,276.80 288.84,275.97 293.00,275.30" stroke-dashoffset="17.0"/>
<path d="M226.60,39.00 C237.67,38.90 248.73,38.83 259.80,38.80 C270.87,38.77 281.93,38.77 293.00,38.80" stroke-dashoffset="1.8"/>
<path d="M226.60,45.00 C230.96,43.92 235.32,42.92 239.68,42.00 C243.03,41.29 246.39,40.50 249.74,40.00 C256.45,39.00 263.15,39.21 269.86,39.00 C277.57,38.76 285.29,38.70 293.00,38.80" stroke-dashoffset="11.1"/>
<path d="M226.60,85.00 C229.95,85.65 233.31,86.65 236.66,88.00 C241.02,89.75 245.38,92.00 249.74,95.00 C253.76,97.77 257.79,101.57 261.81,105.00 C264.49,107.29 267.18,109.80 269.86,112.00 C273.88,115.30 277.91,118.33 281.93,121.00 C285.62,123.45 289.31,125.61 293.00,127.50" stroke-dashoffset="20.4"/>
<path d="M226.60,109.50 C230.96,110.14 235.32,111.30 239.68,113.00 C244.71,114.96 249.74,118.43 254.77,121.00 C258.12,122.71 261.48,124.70 264.83,126.00 C268.18,127.30 271.54,128.13 274.89,128.80 C278.24,129.47 281.60,129.82 284.95,130.00 C287.63,130.14 290.32,130.14 293.00,130.00" stroke-dashoffset="5.2"/>
<path d="M226.60,227.00 C230.96,227.26 235.32,226.86 239.68,225.80 C244.71,224.58 249.74,223.30 254.77,219.50 C259.80,215.70 264.83,208.34 269.86,203.00 C274.05,198.55 278.24,193.27 282.44,190.00 C285.96,187.25 289.48,185.25 293.00,184.00" stroke-dashoffset="14.5"/>
<path d="M226.60,254.50 C230.76,254.68 234.92,255.18 239.08,256.00 C244.64,257.10 250.21,258.81 255.78,261.00 C261.28,263.16 266.78,266.43 272.28,269.00 C276.70,271.07 281.13,273.52 285.56,275.00 C288.04,275.83 290.52,276.50 293.00,277.00" stroke-dashoffset="23.8"/>
<path d="M226.60,286.00 C232.44,287.77 238.27,289.43 244.11,291.00 C248.00,292.04 251.89,293.05 255.78,294.00 C260.14,295.06 264.49,296.25 268.85,297.00 C273.31,297.76 277.77,297.98 282.24,298.50 C285.82,298.92 289.41,299.35 293.00,299.80" stroke-dashoffset="8.6"/>
<path d="M226.60,374.50 C230.12,374.46 233.64,373.30 237.16,371.00 C241.36,368.27 245.55,363.50 249.74,358.00 C253.93,352.50 258.12,344.67 262.32,338.00 C264.83,334.00 267.35,329.71 269.86,326.00 C272.31,322.39 274.76,319.28 277.20,316.00 C279.99,312.27 282.77,307.76 285.56,305.00 C288.04,302.54 290.52,300.81 293.00,299.80" stroke-dashoffset="17.9"/>
<path d="M293.00,182.50 C295.34,182.53 297.68,182.86 300.02,183.50 C304.03,184.60 308.04,187.10 312.06,189.50 C316.24,192.00 320.41,195.58 324.59,198.30 C328.77,201.02 332.95,203.81 337.13,205.80 C342.15,208.19 347.16,209.74 352.18,210.80 C358.03,212.03 363.88,212.42 369.73,212.00 C375.58,211.58 381.43,209.75 387.28,208.30 C393.13,206.85 398.98,204.67 404.83,203.30 C412.36,201.54 419.88,200.27 427.40,199.50" stroke-dashoffset="2.7"/>
<path d="M293.00,276.00 C297.11,277.02 301.22,277.62 305.34,277.80 C308.65,277.94 311.96,278.36 315.27,277.40 C318.38,276.50 321.48,274.15 324.59,272.50 C328.77,270.29 332.95,268.38 337.13,265.80 C341.31,263.22 345.49,259.92 349.67,257.00 C353.85,254.08 358.03,250.58 362.21,248.30 C366.39,246.02 370.56,244.35 374.74,243.30 C378.92,242.25 383.10,242.03 387.28,242.00 C393.97,241.96 400.65,244.17 407.34,245.00 C414.03,245.83 420.71,246.50 427.40,247.00" stroke-dashoffset="12.0"/>
<path d="M293.00,275.30 C297.11,274.16 301.22,273.06 305.34,272.00 C308.65,271.14 311.96,270.12 315.27,269.50 C318.38,268.91 321.48,268.40 324.59,268.30 C328.77,268.16 332.95,267.91 337.13,269.50 C339.81,270.51 342.48,271.83 345.16,274.00 C347.16,275.62 349.17,277.83 351.17,280.00 C355.52,284.70 359.87,290.05 364.21,296.50 C368.12,302.30 372.04,309.02 375.95,316.20 C380.33,324.24 384.71,333.28 389.09,342.60 C391.83,348.43 394.57,353.92 397.31,360.70 C399.55,366.24 401.79,372.43 404.03,378.80 C406.81,386.69 409.58,396.27 412.36,404.00 C415.70,413.31 419.04,420.89 422.39,429.00 C424.06,433.06 425.73,437.06 427.40,441.00" stroke-dashoffset="21.3"/>
<path d="M293.00,277.00 C297.51,281.48 302.03,285.81 306.54,290.00 C312.06,295.12 317.57,299.39 323.09,304.70 C328.71,310.11 334.32,316.28 339.94,322.20 C343.02,325.44 346.09,328.72 349.17,332.00 C352.74,335.82 356.32,339.36 359.90,343.50 C362.11,346.05 364.31,348.95 366.52,351.50 C369.43,354.86 372.34,357.37 375.24,361.00 C378.92,365.59 382.60,371.58 386.28,377.00 C389.29,381.44 392.30,385.93 395.30,390.50 C398.11,394.77 400.92,399.38 403.73,403.50 C406.60,407.72 409.48,411.25 412.36,415.50 C415.03,419.45 417.70,423.41 420.38,428.00 C422.72,432.01 425.06,436.35 427.40,441.00" stroke-dashoffset="6.1"/>
<path d="M293.00,38.80 C308.71,38.73 324.43,38.63 340.14,38.50 C369.23,38.26 398.31,37.93 427.40,37.50" stroke-dashoffset="15.4"/>
<path d="M293.00,38.80 C302.03,37.77 311.05,37.84 320.08,39.00 C325.76,39.73 331.45,40.77 337.13,42.50 C345.49,45.05 353.85,50.25 362.21,53.80 C370.56,57.35 378.92,61.16 387.28,63.80 C393.97,65.91 400.65,67.68 407.34,68.80 C414.03,69.92 420.71,70.48 427.40,70.50" stroke-dashoffset="0.2"/>
<path d="M293.00,130.00 C299.35,123.84 305.70,118.00 312.06,112.50 C320.41,105.26 328.77,98.12 337.13,92.50 C345.49,86.88 353.85,82.13 362.21,78.80 C370.56,75.47 378.92,73.88 387.28,72.50 C395.64,71.12 404.00,70.75 412.36,70.50 C417.37,70.35 422.39,70.35 427.40,70.50" stroke-dashoffset="9.5"/>
<path d="M293.00,127.50 C299.35,128.18 305.70,128.61 312.06,128.80 C317.07,128.95 322.09,128.38 327.10,128.80 C332.12,129.22 337.13,129.63 342.15,131.30 C347.16,132.97 352.18,135.68 357.19,138.80 C362.21,141.92 367.22,145.47 372.24,150.00 C376.41,153.78 380.59,158.50 384.77,163.00 C388.95,167.50 393.13,172.50 397.31,177.00 C401.49,181.50 405.67,186.45 409.85,190.00 C413.19,192.84 416.53,195.37 419.88,197.00 C422.39,198.23 424.89,199.06 427.40,199.50" stroke-dashoffset="18.8"/>
<path d="M293.00,277.00 C297.11,270.70 301.22,266.03 305.34,263.00 C307.58,261.35 309.82,261.51 312.06,259.50 C316.24,255.76 320.41,246.37 324.59,239.50 C328.77,232.63 332.95,224.75 337.13,218.30 C341.31,211.85 345.49,206.22 349.67,200.80 C353.85,195.38 358.03,190.38 362.21,185.80 C366.39,181.22 370.56,177.05 374.74,173.30 C378.92,169.55 383.10,166.02 387.28,163.30 C391.46,160.58 395.64,158.67 399.82,157.00 C404.00,155.33 408.18,154.07 412.36,153.30 C417.37,152.37 422.39,152.10 427.40,152.50" stroke-dashoffset="3.6"/>
<path d="M293.00,184.00 C295.34,184.03 297.68,184.36 300.02,185.00 C304.03,186.10 308.04,188.57 312.06,191.00 C316.24,193.53 320.41,196.83 324.59,200.00 C328.77,203.17 332.95,206.50 337.13,210.00 C341.31,213.50 345.49,217.75 349.67,221.00 C353.85,224.25 358.03,227.03 362.21,229.50 C366.39,231.97 370.56,234.13 374.74,235.80 C378.92,237.47 383.10,238.34 387.28,239.50 C393.97,241.36 400.65,243.25 407.34,244.50 C414.03,245.75 420.71,246.58 427.40,247.00" stroke-dashoffset="12.9"/>
<path d="M293.00,299.80 C297.51,301.95 302.03,305.18 306.54,309.50 C311.05,313.82 315.57,320.44 320.08,325.70 C325.03,331.47 329.98,336.66 334.92,342.50 C339.24,347.59 343.55,353.49 347.86,358.30 C351.94,362.85 356.02,366.17 360.10,370.70 C363.41,374.37 366.72,379.08 370.03,382.50 C373.00,385.58 375.98,386.95 378.96,390.50 C381.40,393.41 383.84,397.79 386.28,401.00 C388.48,403.90 390.69,406.55 392.90,409.00 C397.04,413.60 401.19,416.69 405.33,420.50 C409.35,424.19 413.36,427.76 417.37,431.50 C420.71,434.62 424.06,437.78 427.40,441.00" stroke-dashoffset="22.2"/>
<path d="M293.00,299.80 C298.68,300.65 304.37,302.05 310.05,304.00 C315.73,305.95 321.42,307.95 327.10,311.50 C331.45,314.22 335.79,317.46 340.14,321.50 C343.32,324.45 346.49,328.08 349.67,331.50 C355.29,337.55 360.90,344.52 366.52,350.50 C369.43,353.60 372.34,356.57 375.24,359.50 C377.79,362.06 380.33,364.52 382.87,367.00 C386.18,370.23 389.49,373.15 392.80,376.60 C395.77,379.70 398.75,383.64 401.72,386.50 C405.03,389.68 408.34,392.33 411.65,394.40 C414.93,396.45 418.21,397.96 421.48,398.90 C423.45,399.47 425.43,399.83 427.40,400.00" stroke-dashoffset="7.0"/>
<path d="M427.40,199.50 C439.13,199.97 450.86,200.40 462.59,200.80 C482.19,201.47 501.80,202.03 521.40,202.50" stroke-dashoffset="16.3"/>
<path d="M427.40,247.00 C434.94,246.80 442.48,247.13 450.02,248.00 C455.88,248.68 461.75,249.58 467.61,251.00 C474.32,252.62 481.02,255.51 487.72,257.50 C493.59,259.24 499.45,261.21 505.31,262.30 C510.68,263.29 516.04,263.86 521.40,264.00" stroke-dashoffset="1.1"/>
<path d="M427.40,441.00 C430.75,430.94 434.10,421.11 437.45,411.50 C441.64,399.49 445.83,387.33 450.02,376.50 C454.21,365.67 458.40,356.08 462.59,346.50 C466.78,336.92 470.97,326.78 475.15,319.00 C478.51,312.78 481.86,308.50 485.21,303.00 C488.56,297.50 491.91,290.92 495.26,286.00 C498.61,281.08 501.96,276.81 505.31,273.50 C507.83,271.02 510.34,269.05 512.85,267.50 C515.70,265.75 518.55,264.58 521.40,264.00" stroke-dashoffset="10.4"/>
<path d="M427.40,441.00 C434.94,434.03 442.48,427.13 450.02,420.30 C458.40,412.71 466.78,404.39 475.15,397.80 C481.02,393.19 486.88,388.54 492.75,385.30 C497.77,382.52 502.80,380.29 507.83,379.00 C512.35,377.84 516.88,377.34 521.40,377.50" stroke-dashoffset="19.7"/>
<path d="M427.40,37.50 C434.94,37.12 442.48,36.95 450.02,37.00 C455.88,37.04 461.75,36.63 467.61,37.50 C472.64,38.25 477.67,39.42 482.69,41.30 C487.72,43.18 492.75,45.88 497.77,48.80 C502.80,51.72 507.83,54.78 512.85,58.80 C515.70,61.08 518.55,63.58 521.40,66.30" stroke-dashoffset="4.5"/>
<path d="M427.40,70.50 C439.13,69.91 450.86,69.34 462.59,68.80 C482.19,67.90 501.80,67.06 521.40,66.30" stroke-dashoffset="13.8"/>
<path d="M427.40,70.50 C431.76,70.36 436.11,70.19 440.47,70.00 C447.84,69.67 455.21,69.18 462.59,68.80 C482.19,67.80 501.80,66.97 521.40,66.30" stroke-dashoffset="23.1"/>
<path d="M427.40,152.50 C434.10,152.09 440.80,150.42 447.51,147.50 C452.53,145.31 457.56,143.13 462.59,138.80 C466.78,135.19 470.97,130.22 475.15,125.00 C479.34,119.78 483.53,113.33 487.72,107.50 C491.91,101.67 496.10,95.42 500.29,90.00 C504.48,84.58 508.67,79.56 512.85,75.00 C515.70,71.90 518.55,69.00 521.40,66.30" stroke-dashoffset="7.9"/>
<path d="M427.40,400.30 C432.43,400.48 437.45,400.05 442.48,399.00 C447.51,397.95 452.53,395.72 457.56,394.00 C463.42,392.00 469.29,389.88 475.15,387.80 C481.02,385.72 486.88,383.10 492.75,381.50 C497.77,380.13 502.80,379.17 507.83,378.50 C512.35,377.90 516.88,377.56 521.40,377.50" stroke-dashoffset="17.2"/>
<path d="M521.40,73.80 C529.23,71.89 537.07,71.63 544.90,73.00 C550.73,74.02 556.57,76.35 562.40,78.80 C570.73,82.31 579.07,87.72 587.40,92.50 C595.73,97.28 604.07,103.76 612.40,107.50 C618.23,110.12 624.07,112.37 629.90,113.50 C632.57,114.02 635.23,114.35 637.90,114.50" stroke-dashoffset="2.0"/>
<path d="M521.40,202.50 C529.23,202.73 537.07,201.33 544.90,198.30 C551.57,195.72 558.23,191.17 564.90,187.00 C571.57,182.83 578.23,177.67 584.90,173.30 C591.57,168.93 598.23,164.11 604.90,160.80 C610.23,158.15 615.57,156.31 620.90,154.50 C623.57,153.59 626.23,152.79 628.90,152.00 C631.90,151.11 634.90,150.28 637.90,149.50" stroke-dashoffset="11.3"/>
<path d="M521.40,202.50 C529.23,201.94 537.07,202.61 544.90,204.50 C551.57,206.11 558.23,208.87 564.90,212.00 C571.57,215.13 578.23,219.33 584.90,223.30 C591.57,227.27 598.23,231.80 604.90,235.80 C609.90,238.80 614.90,242.41 619.90,244.50 C623.57,246.03 627.23,247.21 630.90,247.80 C633.23,248.17 635.57,248.34 637.90,248.30" stroke-dashoffset="20.6"/>
<path d="M521.40,264.30 C526.50,264.23 531.60,264.00 536.70,263.60 C541.07,263.26 545.43,262.63 549.80,262.20 C554.20,261.76 558.60,261.49 563.00,261.00 C568.97,260.33 574.93,259.23 580.90,258.50 C587.23,257.72 593.57,257.10 599.90,256.50 C608.23,255.71 616.57,255.23 624.90,254.50 C629.23,254.12 633.57,253.72 637.90,253.30" stroke-dashoffset="5.4"/>
<path d="M521.40,377.50 C524.57,376.26 527.73,374.92 530.90,373.50 C534.17,372.03 537.43,370.90 540.70,368.80 C547.83,364.21 554.97,354.51 562.10,347.40 C567.60,341.92 573.10,336.51 578.60,331.00 C582.43,327.16 586.27,323.36 590.10,319.40 C594.50,314.86 598.90,309.80 603.30,305.40 C607.70,301.00 612.10,296.10 616.50,293.00 C620.30,290.33 624.10,288.61 627.90,287.30 C631.23,286.15 634.57,285.45 637.90,285.20" stroke-dashoffset="14.7"/>
<path d="M521.40,377.50 C523.90,377.12 526.40,375.95 528.90,374.00 C530.63,372.65 532.37,370.94 534.10,368.80 C539.03,362.72 543.97,350.40 548.90,340.80 C553.30,332.24 557.70,323.30 562.10,314.50 C566.50,305.70 570.90,296.02 575.30,288.00 C579.33,280.65 583.37,275.12 587.40,268.00 C591.57,260.65 595.73,251.42 599.90,244.50 C604.07,237.58 608.23,231.17 612.40,226.50 C616.57,221.83 620.73,218.70 624.90,216.50 C629.23,214.21 633.57,213.14 637.90,213.30" stroke-dashoffset="24.0"/>
<path d="M521.40,66.30 C530.90,66.03 540.40,65.20 549.90,63.80 C558.23,62.57 566.57,60.27 574.90,58.80 C583.23,57.33 591.57,56.13 599.90,55.00 C608.23,53.87 616.57,53.19 624.90,52.00 C629.23,51.38 633.57,50.72 637.90,50.00" stroke-dashoffset="8.8"/>
<path d="M521.40,66.30 C527.90,66.89 534.40,67.12 540.90,67.00 C547.57,66.87 554.23,66.18 560.90,65.50 C565.57,65.02 570.23,64.45 574.90,63.80 C584.90,62.41 594.90,59.93 604.90,58.50 C610.23,57.74 615.57,57.00 620.90,56.50 C626.57,55.97 632.23,55.64 637.90,55.50" stroke-dashoffset="18.1"/>
<path d="M521.40,66.30 C526.23,66.60 531.07,67.50 535.90,69.00 C540.57,70.44 545.23,72.55 549.90,75.00 C558.23,79.38 566.57,85.00 574.90,92.50 C583.23,100.00 591.57,110.72 599.90,120.00 C606.57,127.43 613.23,136.67 619.90,142.50 C623.23,145.42 626.57,148.66 629.90,150.00 C632.57,151.07 635.23,151.41 637.90,151.00" stroke-dashoffset="2.9"/>
<path d="M521.40,264.00 C526.50,260.27 531.60,256.41 536.70,252.40 C541.07,248.97 545.43,245.50 549.80,241.80 C553.77,238.44 557.73,234.96 561.70,231.30 C566.10,227.24 570.50,222.50 574.90,218.50 C580.43,213.47 585.97,209.23 591.50,204.70 C596.97,200.23 602.43,195.91 607.90,191.50 C612.23,188.01 616.57,184.04 620.90,181.00 C624.73,178.31 628.57,175.46 632.40,174.00 C634.23,173.30 636.07,172.80 637.90,172.50" stroke-dashoffset="12.2"/>
<path d="M521.40,264.00 C522.90,266.23 524.40,268.23 525.90,270.00 C530.83,275.81 535.77,276.30 540.70,279.90 C546.17,283.89 551.63,289.03 557.10,293.00 C562.60,297.00 568.10,300.77 573.60,303.80 C579.10,306.83 584.60,309.63 590.10,311.20 C595.60,312.77 601.10,313.34 606.60,313.20 C612.03,313.06 617.47,311.02 622.90,310.40 C627.90,309.83 632.90,309.53 637.90,309.50" stroke-dashoffset="21.5"/>
<path d="M521.40,377.50 C526.23,377.56 531.07,376.73 535.90,375.00 C540.80,373.25 545.70,370.01 550.60,367.00 C556.03,363.66 561.47,358.90 566.90,355.70 C571.33,353.09 575.77,350.62 580.20,349.00 C584.60,347.39 589.00,346.27 593.40,346.00 C597.80,345.73 602.20,346.48 606.60,347.40 C610.97,348.32 615.33,350.27 619.70,351.50 C624.10,352.74 628.50,353.92 632.90,354.80 C634.57,355.13 636.23,355.43 637.90,355.70" stroke-dashoffset="6.3"/>
<path d="M637.90,50.00 C640.55,48.66 643.21,47.16 645.86,45.50 C648.85,43.63 651.84,41.24 654.82,39.30 C658.14,37.14 661.46,34.97 664.78,33.30 C668.10,31.63 671.42,30.42 674.73,29.30 C678.05,28.18 681.37,27.28 684.69,26.60 C688.01,25.92 691.33,25.53 694.64,25.20 C697.96,24.87 701.28,24.67 704.60,24.60" stroke-dashoffset="15.6"/>
<path d="M637.90,54.50 C640.55,55.69 643.21,57.19 645.86,59.00 C648.85,61.04 651.84,63.71 654.82,66.30 C658.14,69.18 661.46,72.63 664.78,75.50 C668.10,78.37 671.42,81.42 674.73,83.50 C678.05,85.58 681.37,86.83 684.69,88.00 C688.01,89.17 691.33,89.95 694.64,90.50 C697.96,91.05 701.28,91.32 704.60,91.30" stroke-dashoffset="0.4"/>
<path d="M637.90,114.50 C642.21,114.50 646.53,114.60 650.84,114.80 C654.49,114.97 658.14,114.97 661.79,115.50 C667.33,116.31 672.88,117.44 678.42,120.00 C682.76,122.01 687.11,124.90 691.46,128.00 C695.84,131.13 700.22,134.69 704.60,138.70" stroke-dashoffset="9.7"/>
<path d="M637.90,149.50 C645.53,150.17 653.16,150.83 660.80,151.50 C665.77,151.93 670.75,152.79 675.73,152.80 C678.25,152.81 680.77,153.23 683.30,152.50 C685.09,151.98 686.88,151.01 688.67,150.00 C690.66,148.88 692.65,147.38 694.64,146.00 C697.96,143.70 701.28,141.27 704.60,138.70" stroke-dashoffset="19.0"/>
<path d="M637.90,149.50 C645.53,150.19 653.16,150.86 660.80,151.50 C668.30,152.13 675.80,151.91 683.30,153.30 C687.08,154.00 690.86,155.17 694.64,156.00 C697.96,156.72 701.28,157.39 704.60,158.00" stroke-dashoffset="3.8"/>
<path d="M637.90,213.30 C641.88,213.72 645.86,213.12 649.85,211.50 C653.50,210.02 657.15,206.68 660.80,204.50 C663.45,202.92 666.11,201.38 668.76,200.00 C671.58,198.53 674.40,197.00 677.22,196.00 C681.04,194.65 684.86,193.48 688.67,193.80 C691.99,194.07 695.31,195.73 698.63,197.00 C700.62,197.76 702.61,198.59 704.60,199.50" stroke-dashoffset="13.1"/>
<path d="M637.90,253.30 C641.22,253.29 644.54,252.69 647.86,251.50 C650.51,250.55 653.16,249.50 655.82,247.50 C658.14,245.75 660.47,242.97 662.79,240.70 C667.60,235.99 672.41,231.28 677.22,226.50 C682.70,221.06 688.17,215.35 693.65,210.00 C697.30,206.43 700.95,202.93 704.60,199.50" stroke-dashoffset="22.4"/>
<path d="M637.90,172.50 C640.55,172.45 643.21,172.55 645.86,172.80 C648.52,173.05 651.17,173.41 653.83,174.00 C659.27,175.21 664.71,177.68 670.15,180.00 C675.66,182.34 681.17,184.68 686.68,188.00 C690.99,190.60 695.31,194.60 699.62,197.00 C701.28,197.92 702.94,198.76 704.60,199.50" stroke-dashoffset="7.2"/>
<path d="M637.90,248.30 C641.88,249.31 645.86,249.04 649.85,247.50 C653.16,246.22 656.48,243.98 659.80,241.00 C662.79,238.32 665.77,234.25 668.76,231.00 C671.58,227.93 674.40,225.00 677.22,222.00 C680.04,219.00 682.86,215.73 685.69,213.00 C688.34,210.43 690.99,208.01 693.65,206.00 C697.30,203.23 700.95,201.06 704.60,199.50" stroke-dashoffset="16.5"/>
<path d="M637.90,285.20 C641.72,285.38 645.53,285.92 649.35,286.80 C653.16,287.68 656.98,289.15 660.80,290.50 C663.45,291.44 666.11,292.57 668.76,293.50 C673.74,295.24 678.72,296.95 683.69,298.00 C687.01,298.70 690.33,299.19 693.65,299.50 C697.30,299.84 700.95,299.94 704.60,299.80" stroke-dashoffset="1.3"/>
<path d="M637.90,309.50 C641.72,308.18 645.53,309.01 649.35,312.00 C650.84,313.17 652.34,315.12 653.83,316.50 C658.81,321.12 663.78,323.17 668.76,326.50 C673.74,329.83 678.72,333.61 683.69,336.50 C687.84,338.91 691.99,341.45 696.14,342.80 C698.96,343.72 701.78,344.28 704.60,344.50" stroke-dashoffset="10.6"/>
<path d="M637.90,355.70 C646.53,353.65 655.16,351.85 663.78,350.30 C672.08,348.81 680.38,347.63 688.67,346.50 C693.98,345.78 699.29,345.11 704.60,344.50" stroke-dashoffset="19.9"/>
<path d="M704.60,91.80 C711.76,91.35 718.91,90.52 726.07,89.30 C734.39,87.89 742.71,85.63 751.03,83.50 C759.35,81.37 767.67,78.58 775.99,76.50 C784.31,74.42 792.64,72.46 800.96,71.00 C806.78,69.98 812.61,69.15 818.43,68.50 C825.09,67.76 831.74,67.26 838.40,67.00" stroke-dashoffset="4.7"/>
<path d="M704.60,138.70 C707.93,141.85 711.26,144.61 714.59,147.00 C717.25,148.91 719.91,150.60 722.57,152.00 C727.00,154.33 731.43,155.24 735.85,156.80 C740.91,158.58 745.97,159.96 751.03,162.00 C759.35,165.35 767.67,169.92 775.99,174.50 C784.31,179.08 792.64,184.98 800.96,189.50 C806.78,192.67 812.61,196.16 818.43,198.30 C825.09,200.74 831.74,202.14 838.40,202.50" stroke-dashoffset="14.0"/>
<path d="M704.60,201.20 C709.16,204.45 713.72,207.72 718.28,211.00 C722.11,213.76 725.93,216.73 729.76,219.30 C732.49,221.13 735.22,222.68 737.95,224.50 C742.34,227.43 746.74,230.11 751.13,234.00 C754.92,237.36 758.72,242.41 762.51,245.70 C766.94,249.53 771.37,252.20 775.79,254.70 C781.68,258.02 787.58,260.16 793.47,262.00 C800.12,264.08 806.78,265.08 813.44,266.00 C821.76,267.15 830.08,267.65 838.40,267.50" stroke-dashoffset="23.3"/>
<path d="M704.60,24.50 C711.76,24.70 718.91,25.70 726.07,27.50 C734.39,29.59 742.71,33.25 751.03,37.00 C759.35,40.75 767.67,45.97 775.99,50.00 C781.82,52.82 787.64,55.76 793.47,58.00 C800.12,60.56 806.78,62.53 813.44,64.00 C821.76,65.83 830.08,66.83 838.40,67.00" stroke-dashoffset="8.1"/>
<path d="M704.60,138.70 C709.53,134.05 714.45,129.38 719.38,124.70 C724.87,119.48 730.36,113.87 735.85,109.00 C740.25,105.10 744.64,101.42 749.03,98.00 C752.20,95.54 755.36,93.22 758.52,91.00 C765.18,86.33 771.83,81.82 778.49,78.50 C785.98,74.76 793.47,72.36 800.96,70.50 C807.45,68.89 813.94,68.07 820.43,67.50 C826.42,66.97 832.41,66.80 838.40,67.00" stroke-dashoffset="17.4"/>
<path d="M704.60,158.00 C707.93,158.26 711.26,157.76 714.59,156.50 C717.25,155.49 719.91,153.84 722.57,152.00 C727.00,148.94 731.43,144.02 735.85,140.00 C740.25,136.01 744.64,131.56 749.03,128.00 C752.20,125.44 755.36,123.50 758.52,121.00 C765.18,115.74 771.83,108.83 778.49,103.00 C785.98,96.45 793.47,89.42 800.96,84.00 C806.78,79.78 812.61,75.77 818.43,73.00 C825.09,69.83 831.74,67.83 838.40,67.00" stroke-dashoffset="2.2"/>
<path d="M704.60,199.50 C708.06,201.91 711.52,204.41 714.98,207.00 C718.85,209.89 722.71,213.27 726.57,216.00 C732.03,219.87 737.48,223.83 742.94,226.00 C748.40,228.17 753.86,229.36 759.32,229.00 C763.71,228.71 768.11,227.36 772.50,225.50 C776.36,223.87 780.22,221.17 784.08,219.00 C789.71,215.84 795.33,211.90 800.96,209.50 C806.78,207.01 812.61,205.66 818.43,204.50 C825.09,203.17 831.74,202.51 838.40,202.50" stroke-dashoffset="11.5"/>
<path d="M704.60,199.50 C706.60,197.75 708.59,196.25 710.59,195.00 C712.59,193.75 714.59,192.69 716.58,192.00 C720.98,190.49 725.37,191.00 729.76,192.00 C734.16,193.00 738.55,195.72 742.94,198.00 C748.40,200.83 753.86,204.26 759.32,207.80 C764.81,211.36 770.30,215.82 775.79,219.30 C784.01,224.50 792.24,226.78 800.46,232.50 C807.11,237.13 813.77,243.37 820.43,249.00 C826.42,254.06 832.41,259.23 838.40,264.50" stroke-dashoffset="20.8"/>
<path d="M704.60,199.50 C708.06,198.90 711.52,198.63 714.98,198.70 C717.71,198.76 720.44,198.37 723.17,199.50 C725.90,200.63 728.63,202.72 731.36,205.50 C735.22,209.44 739.08,216.13 742.94,222.00 C746.80,227.87 750.66,235.43 754.53,240.70 C757.79,245.15 761.05,247.82 764.31,252.00 C766.51,254.81 768.70,257.78 770.90,261.00 C773.43,264.71 775.96,268.70 778.49,273.00 C783.48,281.49 788.47,291.53 793.47,302.00 C796.80,308.98 800.12,316.58 803.45,324.00 C806.78,331.42 810.11,339.83 813.44,346.50 C816.77,353.17 820.09,359.42 823.42,364.00 C826.75,368.58 830.08,371.64 833.41,374.00 C835.07,375.18 836.74,376.11 838.40,376.80" stroke-dashoffset="5.6"/>
<path d="M704.60,299.80 C710.09,299.70 715.58,299.77 721.08,300.00 C725.24,300.17 729.40,299.93 733.56,300.80 C737.88,301.71 742.21,303.78 746.54,305.50 C750.43,307.05 754.33,308.13 758.22,310.50 C762.05,312.82 765.88,316.11 769.70,319.50 C774.10,323.39 778.49,328.30 782.88,332.70 C787.28,337.10 791.67,341.50 796.06,345.90 C800.42,350.27 804.78,354.90 809.14,359.00 C813.54,363.13 817.93,367.70 822.32,370.60 C825.62,372.78 828.91,374.28 832.21,375.50 C834.27,376.26 836.34,376.86 838.40,377.30" stroke-dashoffset="14.9"/>
<path d="M704.60,345.50 C710.39,345.19 716.18,344.63 721.97,343.80 C725.83,343.25 729.70,342.43 733.56,341.80 C739.02,340.90 744.47,339.28 749.93,339.30 C754.33,339.31 758.72,339.92 763.11,341.00 C766.94,341.94 770.77,343.38 774.60,345.00 C778.46,346.64 782.32,348.64 786.18,350.80 C790.54,353.24 794.90,356.15 799.26,359.00 C803.65,361.88 808.05,365.25 812.44,368.00 C816.83,370.75 821.23,373.83 825.62,375.50 C829.88,377.12 834.14,377.95 838.40,378.00" stroke-dashoffset="24.2"/>
<path d="M704.60,344.50 C710.39,344.74 716.18,344.38 721.97,343.40 C728.56,342.29 735.15,340.95 741.74,337.70 C746.14,335.53 750.53,332.71 754.92,329.40 C759.85,325.69 764.78,320.61 769.70,316.20 C775.19,311.28 780.69,305.80 786.18,301.40 C791.60,297.05 797.03,293.49 802.45,289.90 C806.88,286.97 811.31,284.67 815.73,281.60 C819.96,278.67 824.19,275.19 828.41,272.00 C831.74,269.49 835.07,266.99 838.40,264.50" stroke-dashoffset="9.0"/>
</g>
</g>
<rect x="564.5" y="379.5" width="255" height="116" rx="5" ry="5" fill="#fff" stroke="#d6d6d6" stroke-width="1.1"/>
<line x1="579.3" y1="408.3" x2="653.7" y2="408.3" stroke="#f00" stroke-width="4.5" stroke-linecap="round"/>
<line x1="579.3" y1="460.7" x2="653.7" y2="460.7" stroke="#00f" stroke-opacity="0.5" stroke-width="4.5" stroke-dasharray="17.4 7.1"/>
<rect x="110.4" y="0.6" width="728.0" height="514.1" fill="none" stroke="#000" stroke-width="1.6"/>
<g stroke="#000" stroke-width="1.6">
<line x1="110.4" y1="514.7" x2="110.4" y2="523.7"/>
<line x1="226.6" y1="514.7" x2="226.6" y2="523.7"/>
<line x1="293.0" y1="514.7" x2="293.0" y2="523.7"/>
<line x1="427.4" y1="514.7" x2="427.4" y2="523.7"/>
<line x1="521.4" y1="514.7" x2="521.4" y2="523.7"/>
<line x1="637.9" y1="514.7" x2="637.9" y2="523.7"/>
<line x1="704.6" y1="514.7" x2="704.6" y2="523.7"/>
<line x1="838.4" y1="514.7" x2="838.4" y2="523.7"/>
<line x1="101.4" y1="441.2" x2="110.4" y2="441.2"/>
<line x1="101.4" y1="340.4" x2="110.4" y2="340.4"/>
<line x1="101.4" y1="239.6" x2="110.4" y2="239.6"/>
<line x1="101.4" y1="138.8" x2="110.4" y2="138.8"/>
<line x1="101.4" y1="38.0" x2="110.4" y2="38.0"/>
</g>
<g font-family="'Liberation Sans', Arial, sans-serif" fill="#000" stroke="#000" stroke-width="0.5" stroke-linejoin="round">
<g font-size="37px" text-anchor="middle">
<text x="110.4" y="559.8">Γ</text>
<text x="226.6" y="559.8">M</text>
<text x="293.0" y="559.8">K</text>
<text x="427.4" y="559.8">Γ</text>
<text x="521.4" y="559.8">A</text>
<text x="637.9" y="559.8">L</text>
<text x="704.6" y="559.8">H</text>
<text x="838.4" y="559.8">A</text>
</g>
<g font-size="37px" text-anchor="end">
<text x="90.6" y="454.3">0</text>
<text x="90.6" y="353.5">5</text>
<text x="90.6" y="252.7">10</text>
<text x="90.6" y="151.9">15</text>
<text x="90.6" y="51.1">20</text>
</g>
<text x="683" y="420.5" font-size="37px">DFT</text>
<text x="682.6" y="472.8" font-size="37px">eSNAP</text>
<text x="475.2" y="607.2" font-size="46.7px" text-anchor="middle">Wave vector</text>
<text transform="translate(32.7,256.9) rotate(-90)" font-size="46.7px" text-anchor="middle">Frequency (THz)</text>
</g>
</svg>
</body></html>
